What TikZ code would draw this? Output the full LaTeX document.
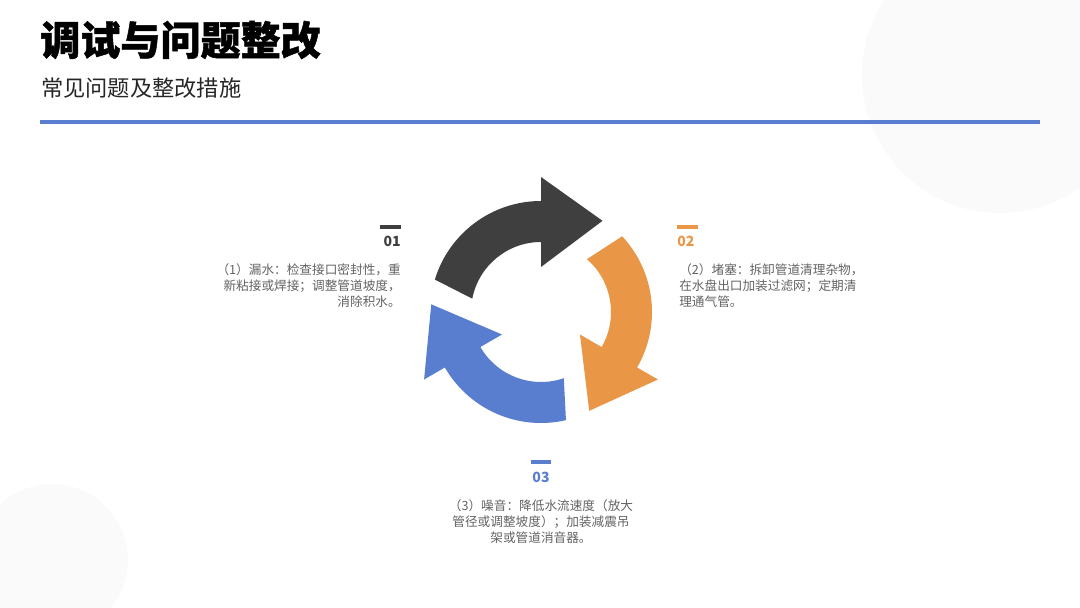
\documentclass[tikz,border=0pt]{standalone}
\usepackage{fontspec}
\setmainfont{Noto Sans CJK SC}
\definecolor{arrdark}{HTML}{3F3F3F}
\definecolor{arrorange}{HTML}{E99646}
\definecolor{arrblue}{HTML}{5A7ECF}
\definecolor{txtgray}{HTML}{636363}
\definecolor{bggray}{HTML}{FAFAFB}

\begin{document}
\begin{tikzpicture}[x=0.025cm,y=0.025cm,
  body/.style={font=\fontsize{9}{11.4}\selectfont, text=txtgray, inner sep=0pt},
  num/.style={font=\fontsize{10}{12}\selectfont\bfseries, inner sep=0pt},
  bar/.style={line width=3pt}]
\useasboundingbox (0,0) rectangle (1080,607);

%background circles
\begin{scope}
\clip (0,0) rectangle (1080,607);
\fill[bggray] (1000,532) circle (138);
\fill[bggray] (52,47) circle (76);
\end{scope}

%title
\node[anchor=west, inner sep=0pt, font=\fontsize{28.5}{30}\selectfont\bfseries\addfontfeatures{FakeBold=1.2}] (title) at (40,567) {调试与问题整改};
\node[anchor=west, inner sep=0pt, font=\fontsize{15.8}{18}\selectfont, text=black!85] (subtitle) at (41,519) {常见问题及整改措施};
\draw[arrblue, line width=2.3pt] (40,485) -- (1040,485);

%cycle
\coordinate (c) at (541,295);
\foreach \r/\col in {0/arrdark,-120/arrorange,-240/arrblue}{
  \begin{scope}[shift={(c)}, rotate=\r]
    \fill[\col] (163:111) arc (163:90:111) -- (90:135) -- (56:110) -- (90:45) -- (90:70) arc (90:169:70) -- cycle;
  \end{scope}
}

%01
\draw[arrdark, bar] (380,380) -- (401,380);
\node[num, text=arrdark, anchor=east] (n1) at (401,366) {01};
\node[body, anchor=east, align=right] (t1) at (401,321) {（1）漏水：检查接口密封性，重\\新粘接或焊接；调整管道坡度，\\消除积水。};

%02
\draw[arrorange, bar] (677,380) -- (698,380);
\node[num, text=arrorange, anchor=west] (n2) at (677,366) {02};
\node[body, anchor=west, align=left] (t2) at (679,321) {（2）堵塞：拆卸管道清理杂物，\\在水盘出口加装过滤网；定期清\\理通气管。};

%03
\draw[arrblue, bar] (531,145) -- (551,145);
\node[num, text=arrblue] (n3) at (541,130) {03};
\node[body, align=center] (t3) at (541,85) {（3）噪音：降低水流速度（放大\\管径或调整坡度）；加装减震吊\\架或管道消音器。};

\end{tikzpicture}
\end{document}
